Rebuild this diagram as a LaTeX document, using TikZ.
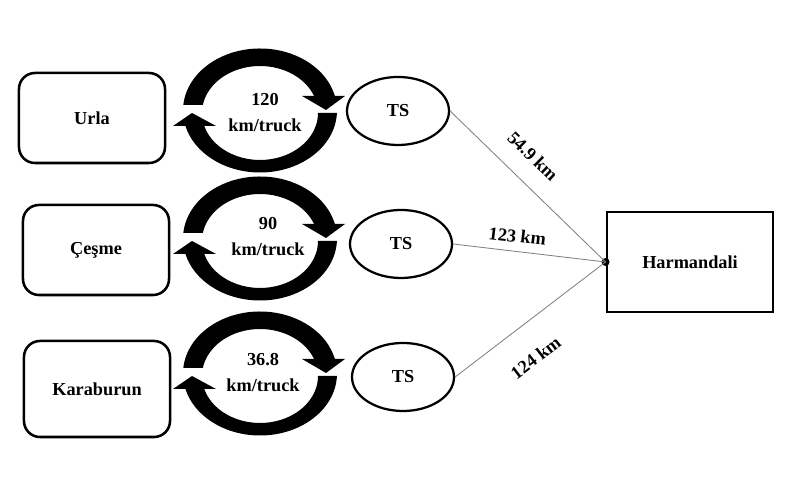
\documentclass[tikz,border=0pt]{standalone}
\usepackage{fontspec}
\setmainfont{Liberation Serif}
\usetikzlibrary{calc,shapes.geometric}

\begin{document}
\begin{tikzpicture}[x=0.025cm, y=0.025cm,
    every node/.style={font=\bfseries\fontsize{13}{18.5}\selectfont},
    town/.style={draw, line width=1.8pt, rounded corners=0.4cm,
        minimum width=3.65cm, minimum height=2.25cm},
    station/.style={draw, ellipse, line width=1.6pt,
        minimum width=2.55cm, minimum height=1.7cm},
    depot/.style={draw, line width=2pt, minimum width=4.15cm, minimum height=2.5cm},
    outer arc/.style={x radius=77, y radius=62},
    inner arc/.style={x radius=58, y radius=47},
    link/.style={draw=gray, line width=0.6pt},
    dist/.style={sloped, inner sep=0pt}]

    % Frame
    \useasboundingbox (0,0) rectangle (789,477);

    % Towns
    \node[town] (urla) at (92,359) {Urla};
    \node[town] (cesme) at (96,227) {Çeşme};
    \node[town, minimum height=2.4cm] (karaburun) at (97,88) {Karaburun};

    % Transfer stations
    \node[station] (ts1) at (398,366) {TS};
    \node[station] (ts2) at (401,233) {TS};
    \node[station] (ts3) at (403,100) {TS};

    % Round trips town <-> TS (outer ring centre sits 2.5 above inner one)
    \foreach \cy in {364,236,101} {
        \begin{scope}[shift={(260,\cy)}]
            % upper half, going to the TS
            \fill ($(0,2.5)+(174.9:77 and 62)$)
                arc[start angle=174.9, end angle=13.5, outer arc]
                -- (21.2:58 and 47)
                arc[start angle=21.2, end angle=170.2, inner arc] -- cycle;
            \fill (42,17) -- (85,17) -- (66,3) -- cycle;
            % lower half, back to the town
            \fill ($(0,2.5)+(-2.3:77 and 62)$)
                arc[start angle=-2.3, end angle=-165.5, outer arc]
                -- (-163.9:58 and 47)
                arc[start angle=-163.9, end angle=0, inner arc] -- cycle;
            \fill (-87,-13) -- (-44,-13) -- (-68,0) -- cycle;
        \end{scope}
    }
    \node[align=center] (trip1) at (265,364) {120\\km/truck};
    \node[align=center] (trip2) at (268,240) {90\\km/truck};
    \node[align=center] (trip3) at (263,104) {36.8\\km/truck};

    % Landfill
    \node[depot] (harmandali) at (690,215) {Harmandali};
    \node[circle, fill, inner sep=0pt, minimum size=0.2cm] (hub) at (harmandali.west) {};

    % Haul distances
    \draw[link] (ts1.east) -- (hub.center) node[dist, pos=0.42, above=13pt] {54.9 km};
    \draw[link] (ts2.east) -- (hub.center) node[dist, pos=0.41, above=6pt] {123 km};
    \draw[link] (ts3.east) -- (hub.center) node[dist, pos=0.40, below=19pt] {124 km};

\end{tikzpicture}
\end{document}
